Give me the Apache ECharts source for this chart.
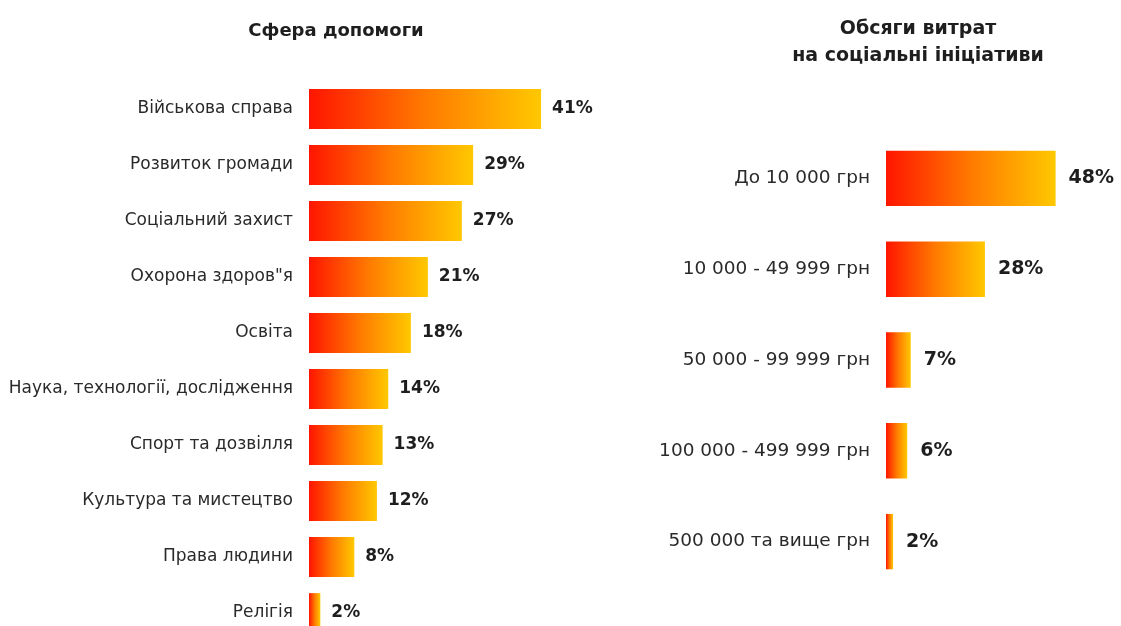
<!DOCTYPE html>
<html>
<head>
<meta charset="utf-8">
<script src="https://cdn.jsdelivr.net/npm/echarts@6/dist/echarts.min.js"></script>
<style>
html,body{margin:0;padding:0;background:#fff;overflow:hidden;}
#chart{width:1121px;height:646px;}
</style>
</head>
<body>
<div id="chart"></div>
<script>
// Left chart: sphere of help
var leftTitle = 'Сфера допомоги';
var leftCategories = ['Військова справа','Розвиток громади','Соціальний захист','Охорона здоров"я','Освіта','Наука, технології, дослідження','Спорт та дозвілля','Культура та мистецтво','Права людини','Релігія'];
var leftValues = [41, 29, 27, 21, 18, 14, 13, 12, 8, 2];

// Right chart: spending volumes
var rightTitle = 'Обсяги витрат\nна соціальні ініціативи';
var rightCategories = ['До 10 000 грн','10 000 - 49 999 грн','50 000 - 99 999 грн','100 000 - 499 999 грн','500 000 та вище грн'];
var rightValues = [48, 28, 7, 6, 2];

var chart = echarts.init(document.getElementById('chart'), null, {renderer:'canvas'});

function grad(){
  return new echarts.graphic.LinearGradient(0,0,1,0,[
    {offset:0,color:'#ff1500'},
    {offset:0.5,color:'#ff7a00'},
    {offset:1,color:'#ffc800'}
  ]);
}

function catLabel(size){
  return {color:'#2a2a2a', fontFamily:'DejaVu Sans', fontSize:size, margin:16};
}
function valLabel(size, dist){
  return {show:true, position:'right', distance:dist, color:'#1e1e1e', fontFamily:'DejaVu Sans',
          fontWeight:'bold', fontSize:size, formatter:'{c}%'};
}

chart.setOption({
  animation:false,
  backgroundColor:'#fff',
  title:[
    {text:leftTitle, left:331, top:17, textAlign:'center',
     textStyle:{fontFamily:'DejaVu Sans', fontWeight:'bold', fontSize:18, color:'#1e1e1e'}},
    {text:rightTitle, left:913, top:11, textAlign:'center',
     textStyle:{fontFamily:'DejaVu Sans', fontWeight:'bold', fontSize:19, color:'#1e1e1e', lineHeight:27}}
  ],
  grid:[
    {left:309, top:81, width:283, height:560, containLabel:false},
    {left:886, top:133, width:212, height:454, containLabel:false}
  ],
  xAxis:[
    {type:'value', gridIndex:0, min:0, max:50, show:false},
    {type:'value', gridIndex:1, min:0, max:60, show:false}
  ],
  yAxis:[
    {type:'category', gridIndex:0, data:leftCategories, inverse:true,
     axisLine:{show:false}, axisTick:{show:false}, splitLine:{show:false}, axisLabel:catLabel(17)},
    {type:'category', gridIndex:1, data:rightCategories, inverse:true,
     axisLine:{show:false}, axisTick:{show:false}, splitLine:{show:false}, axisLabel:catLabel(18.5)}
  ],
  series:[
    {type:'bar', xAxisIndex:0, yAxisIndex:0, data:leftValues, barCategoryGap:'29%',
     itemStyle:{color:grad()}, label:valLabel(17, 11)},
    {type:'bar', xAxisIndex:1, yAxisIndex:1, data:rightValues, barCategoryGap:'39%',
     itemStyle:{color:grad()}, label:valLabel(19, 13)}
  ]
});
</script>
</body>
</html>
